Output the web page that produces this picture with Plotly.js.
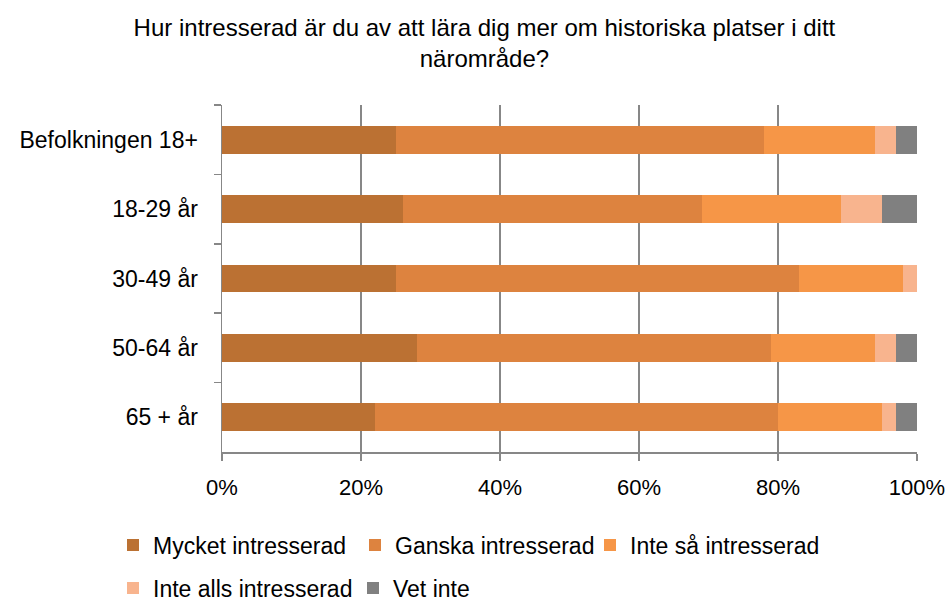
<!DOCTYPE html>
<html>
<head>
<meta charset="utf-8">
<script src="https://cdn.plot.ly/plotly-3.0.1.min.js"></script>
<style>html,body{margin:0;padding:0;background:#fff;}#chart{width:948px;height:602px;}</style>
</head>
<body>
<div id="chart"></div>
<script>
const categories = ["Befolkningen 18+", "18-29 år", "30-49 år", "50-64 år", "65 + år"];
const seriesNames = ["Mycket intresserad", "Ganska intresserad", "Inte så intresserad", "Inte alls intresserad", "Vet inte"];
const mycket = [25, 26, 25, 28, 22];
const ganska = [53, 43, 58, 51, 58];
const inteSa = [16, 20, 15, 15, 15];
const inteAlls = [3, 6, 2, 3, 2];
const vetInte = [3, 5, 0, 3, 3];
const tickVals = [0, 20, 40, 60, 80, 100];
const tickText = ["0%", "20%", "40%", "60%", "80%", "100%"];
const titleText = "Hur intresserad är du av att lära dig mer om historiska platser i ditt<br>närområde?";

const colors = ["#BB7133", "#DD833F", "#F69647", "#F8B48E", "#808080"];
const values = [mycket, ganska, inteSa, inteAlls, vetInte];
const FONT = "Liberation Sans, Arial, sans-serif";

// legend entry placement (container px: left edge, vertical centre)
const legendPos = [[113, 545], [355, 545], [590, 545], [113, 588], [353, 588]];
const legendIds = ["legend", "legend2", "legend3", "legend4", "legend5"];

const traces = values.map((v, i) => ({
  type: "bar",
  orientation: "h",
  name: seriesNames[i],
  y: categories,
  x: v,
  marker: {color: colors[i], line: {width: 0}},
  legend: legendIds[i],
  hoverinfo: "x+name"
}));

const layout = {
  width: 948, height: 602,
  margin: {l: 222, r: 31, t: 105, b: 150},
  paper_bgcolor: "#fff", plot_bgcolor: "#fff",
  font: {family: FONT, size: 23, color: "#000"},
  title: {text: titleText, font: {family: FONT, size: 24, color: "#000"}, x: 0.511, xanchor: "center", y: 0.94, yanchor: "middle"},
  barmode: "stack",
  bargap: 0.6,
  xaxis: {
    range: [0, 100], tickvals: tickVals, ticktext: tickText,
    showgrid: true, gridcolor: "#878787", gridwidth: 1.5,
    showline: true, linecolor: "#878787", linewidth: 1.5,
    ticks: "outside", ticklen: 7, tickcolor: "#878787", tickwidth: 1.5,
    zeroline: false, fixedrange: true, ticklabelstandoff: 8,
    tickfont: {family: FONT, size: 22, color: "#000"}
  },
  yaxis: {
    autorange: "reversed", type: "category",
    showline: true, linecolor: "#878787", linewidth: 1.5,
    ticks: "outside", ticklen: 7, tickcolor: "#878787", tickwidth: 1.5,
    tickson: "boundaries", showgrid: false, ticklabelstandoff: 18,
    tickfont: {family: FONT, size: 23, color: "#000"}
  },
  showlegend: true
};

legendIds.forEach((id, i) => {
  layout[id] = {
    orientation: "h", xref: "container", yref: "container",
    x: legendPos[i][0] / 948, y: 1 - legendPos[i][1] / 602,
    xanchor: "left", yanchor: "middle",
    font: {family: FONT, size: 23, color: "#000"},
    bgcolor: "rgba(0,0,0,0)", itemwidth: 30, borderwidth: 0
  };
});

Plotly.newPlot("chart", traces, layout, {displayModeBar: false, staticPlot: true});
</script>
</body>
</html>
